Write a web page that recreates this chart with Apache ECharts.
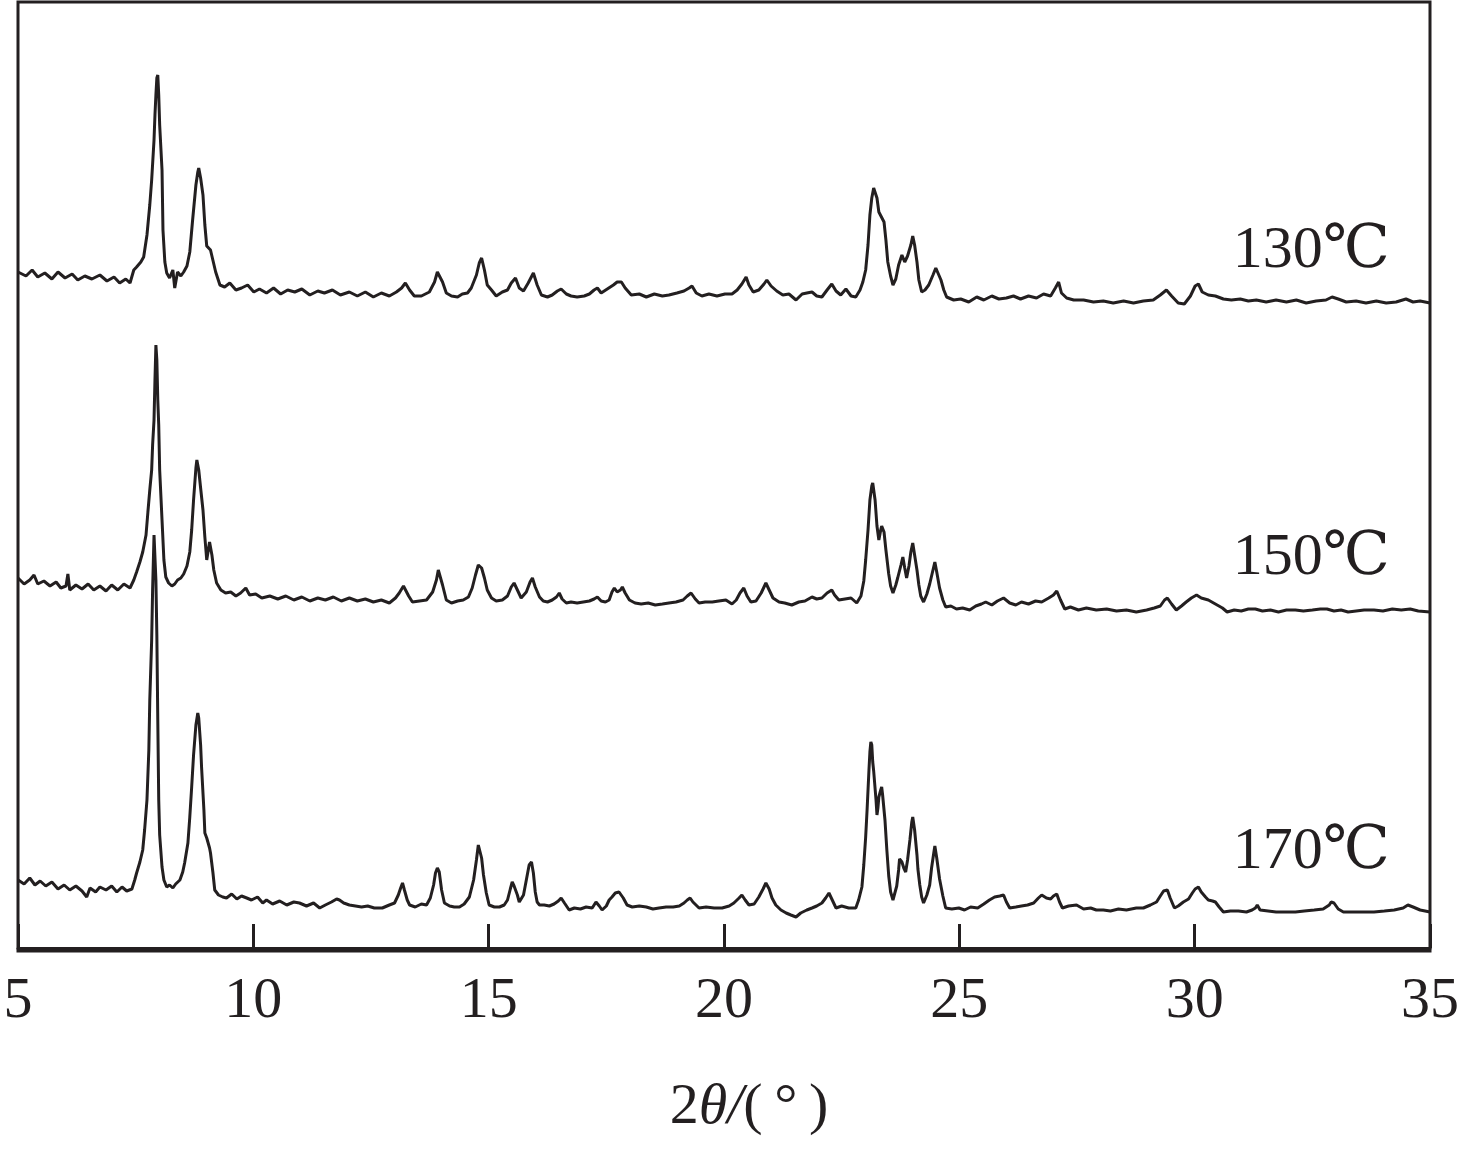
<!DOCTYPE html>
<html>
<head>
<meta charset="utf-8">
<script src="https://cdn.jsdelivr.net/npm/echarts@6/dist/echarts.min.js"></script>
<style>
html,body{margin:0;padding:0;background:#fff;}
#chart{width:1462px;height:1149px;}
</style>
</head>
<body>
<div id="chart"></div>
<script>
// Sample names (temperature of synthesis)
const sampleNames = ['130℃', '150℃', '170℃'];
// x tick labels (2θ, degrees)
const xTicks = [5, 10, 15, 20, 25, 30, 35];

// XRD patterns, [2θ (°), intensity (a.u., stacked offsets included)]
const s130 = [[5.00,676],[5.17,672],[5.30,678],[5.42,671],[5.57,675],[5.72,669],[5.85,676],[6.00,670],[6.15,674],[6.27,668],[6.42,672],[6.57,669],[6.74,673],[6.89,667],[7.04,671],[7.16,665],[7.29,669],[7.38,665],[7.46,678],[7.52,681],[7.61,686],[7.67,691],[7.74,713],[7.80,743],[7.84,768],[7.89,808],[7.91,833],[7.93,853],[7.95,870],[7.97,873],[7.99,853],[8.01,823],[8.06,778],[8.08,718],[8.12,686],[8.16,675],[8.22,670],[8.29,678],[8.33,660],[8.39,676],[8.46,672],[8.52,676],[8.59,682],[8.65,696],[8.71,728],[8.78,763],[8.82,776],[8.84,780],[8.88,770],[8.93,753],[8.97,723],[9.01,702],[9.05,704],[9.09,698],[9.14,688],[9.20,676],[9.29,663],[9.39,661],[9.50,665],[9.63,658],[9.75,660],[9.88,663],[10.01,656],[10.13,659],[10.28,655],[10.43,660],[10.58,654],[10.73,658],[10.88,656],[11.03,659],[11.20,653],[11.37,657],[11.51,655],[11.68,658],[11.85,653],[12.04,656],[12.21,652],[12.38,656],[12.55,651],[12.72,655],[12.89,652],[13.04,656],[13.15,660],[13.23,665],[13.32,658],[13.42,652],[13.57,652],[13.74,656],[13.85,666],[13.91,676],[13.95,678],[14.02,666],[14.10,655],[14.21,652],[14.34,651],[14.44,654],[14.55,655],[14.63,660],[14.74,673],[14.80,685],[14.85,690],[14.91,678],[14.97,663],[15.06,658],[15.16,652],[15.29,656],[15.40,658],[15.48,665],[15.57,670],[15.65,660],[15.74,657],[15.84,665],[15.95,675],[16.03,663],[16.12,653],[16.25,651],[16.35,653],[16.46,657],[16.54,659],[16.65,654],[16.75,652],[16.88,651],[17.03,652],[17.14,654],[17.24,658],[17.31,660],[17.39,655],[17.52,659],[17.65,663],[17.73,666],[17.82,666],[17.90,660],[18.03,653],[18.20,654],[18.35,651],[18.52,654],[18.69,652],[18.83,653],[19.00,655],[19.15,657],[19.26,660],[19.32,662],[19.41,655],[19.53,652],[19.68,654],[19.85,652],[20.02,654],[20.17,654],[20.28,658],[20.38,664],[20.47,671],[20.53,663],[20.62,656],[20.74,658],[20.85,664],[20.91,668],[21.00,662],[21.12,657],[21.25,653],[21.38,654],[21.53,648],[21.66,654],[21.76,655],[21.87,656],[21.97,652],[22.08,651],[22.19,658],[22.29,664],[22.38,657],[22.48,653],[22.59,659],[22.70,652],[22.80,651],[22.89,658],[22.95,666],[23.01,678],[23.06,703],[23.10,733],[23.14,750],[23.18,760],[23.21,762],[23.25,750],[23.29,736],[23.33,734],[23.40,726],[23.44,708],[23.48,686],[23.54,672],[23.59,663],[23.65,669],[23.71,683],[23.78,693],[23.84,686],[23.90,692],[23.97,703],[24.01,712],[24.05,703],[24.10,686],[24.14,668],[24.20,656],[24.27,658],[24.35,663],[24.44,673],[24.50,680],[24.54,678],[24.61,668],[24.67,658],[24.73,651],[24.88,648],[25.03,649],[25.20,646],[25.37,651],[25.52,648],[25.69,652],[25.84,649],[26.00,650],[26.15,652],[26.30,649],[26.47,652],[26.64,650],[26.79,654],[26.94,652],[27.04,660],[27.11,666],[27.17,655],[27.28,650],[27.43,648],[27.64,648],[27.85,646],[28.06,647],[28.27,645],[28.49,647],[28.70,645],[28.91,647],[29.12,648],[29.27,653],[29.40,658],[29.51,652],[29.65,645],[29.78,644],[29.91,652],[30.01,662],[30.08,664],[30.16,656],[30.29,653],[30.44,652],[30.61,649],[30.78,648],[30.97,649],[31.14,647],[31.31,648],[31.52,646],[31.73,648],[31.95,646],[32.16,648],[32.37,645],[32.58,647],[32.79,648],[32.92,651],[33.05,649],[33.22,646],[33.43,647],[33.64,645],[33.86,647],[34.07,645],[34.28,646],[34.49,649],[34.64,646],[34.79,647],[35.00,645]];

const s150 = [[5.00,370],[5.13,364],[5.25,368],[5.34,373],[5.42,364],[5.55,367],[5.68,362],[5.81,366],[5.91,360],[6.02,362],[6.06,374],[6.10,358],[6.23,363],[6.36,359],[6.49,364],[6.61,358],[6.74,362],[6.87,357],[6.99,363],[7.12,358],[7.25,364],[7.38,360],[7.46,368],[7.52,376],[7.59,386],[7.65,396],[7.72,413],[7.76,436],[7.80,458],[7.84,478],[7.86,503],[7.89,528],[7.91,568],[7.93,603],[7.95,588],[7.97,548],[7.99,523],[8.01,478],[8.06,428],[8.10,388],[8.14,371],[8.20,365],[8.27,362],[8.33,364],[8.39,368],[8.46,370],[8.52,374],[8.59,382],[8.65,396],[8.69,418],[8.73,448],[8.78,480],[8.80,488],[8.84,478],[8.88,460],[8.93,438],[8.97,411],[9.01,388],[9.05,400],[9.07,406],[9.12,393],[9.16,378],[9.22,365],[9.31,358],[9.41,355],[9.52,356],[9.63,352],[9.73,355],[9.84,360],[9.92,353],[10.05,354],[10.18,350],[10.35,352],[10.52,349],[10.69,352],[10.86,348],[11.03,351],[11.20,347],[11.37,350],[11.53,348],[11.70,351],[11.87,347],[12.04,350],[12.21,347],[12.38,349],[12.55,346],[12.72,348],[12.89,345],[13.02,350],[13.10,355],[13.19,362],[13.23,361],[13.30,352],[13.38,346],[13.53,347],[13.68,348],[13.81,356],[13.89,368],[13.93,378],[13.95,380],[14.02,363],[14.10,348],[14.21,345],[14.34,347],[14.46,348],[14.57,351],[14.65,360],[14.72,373],[14.78,383],[14.85,380],[14.91,370],[14.97,358],[15.06,350],[15.16,347],[15.29,348],[15.40,352],[15.48,361],[15.54,365],[15.61,358],[15.69,350],[15.80,356],[15.88,366],[15.93,370],[15.99,361],[16.08,351],[16.16,347],[16.25,346],[16.35,348],[16.44,351],[16.50,355],[16.56,349],[16.65,345],[16.75,346],[16.88,345],[17.01,346],[17.14,347],[17.24,349],[17.31,351],[17.39,347],[17.48,346],[17.56,348],[17.62,356],[17.67,360],[17.73,356],[17.80,358],[17.84,361],[17.90,355],[17.99,348],[18.11,345],[18.24,344],[18.39,345],[18.54,343],[18.69,344],[18.83,345],[18.98,346],[19.13,348],[19.22,352],[19.30,355],[19.39,349],[19.47,345],[19.60,346],[19.75,346],[19.89,347],[20.04,348],[20.17,344],[20.26,348],[20.34,355],[20.42,360],[20.49,352],[20.57,346],[20.68,347],[20.79,355],[20.85,361],[20.89,365],[20.96,358],[21.04,350],[21.17,346],[21.29,345],[21.44,343],[21.59,346],[21.72,347],[21.87,351],[21.97,349],[22.08,350],[22.19,355],[22.29,358],[22.35,353],[22.44,348],[22.57,349],[22.70,350],[22.82,345],[22.91,352],[22.97,367],[23.01,388],[23.06,418],[23.10,448],[23.14,462],[23.16,465],[23.21,448],[23.25,422],[23.29,408],[23.33,418],[23.35,422],[23.40,416],[23.44,398],[23.50,374],[23.54,362],[23.59,355],[23.65,363],[23.69,370],[23.76,383],[23.80,391],[23.84,380],[23.88,370],[23.93,382],[23.97,396],[24.01,405],[24.05,393],[24.10,378],[24.14,363],[24.18,352],[24.24,346],[24.31,354],[24.37,364],[24.44,378],[24.48,386],[24.52,376],[24.58,360],[24.65,348],[24.71,341],[24.82,342],[24.94,339],[25.07,340],[25.22,338],[25.35,342],[25.47,344],[25.56,346],[25.69,343],[25.81,347],[25.94,350],[26.07,345],[26.20,343],[26.32,346],[26.47,344],[26.62,347],[26.75,346],[26.90,350],[27.00,353],[27.07,357],[27.15,348],[27.24,339],[27.36,341],[27.53,338],[27.70,340],[27.91,338],[28.13,339],[28.34,337],[28.55,338],[28.76,336],[28.98,338],[29.14,340],[29.27,342],[29.36,348],[29.42,350],[29.51,344],[29.61,338],[29.72,342],[29.82,346],[29.93,350],[30.04,353],[30.14,350],[30.29,348],[30.44,344],[30.59,340],[30.69,336],[30.84,338],[30.99,337],[31.14,339],[31.29,339],[31.44,337],[31.61,338],[31.78,336],[31.95,338],[32.14,338],[32.31,337],[32.50,338],[32.67,339],[32.81,339],[32.96,337],[33.11,338],[33.26,336],[33.43,337],[33.60,338],[33.81,338],[34.00,337],[34.20,339],[34.39,338],[34.58,339],[34.75,337],[35.00,336]];

const s170 = [[5.00,68],[5.13,64],[5.25,70],[5.36,63],[5.47,67],[5.59,62],[5.72,66],[5.85,59],[5.98,63],[6.10,58],[6.23,62],[6.36,57],[6.46,51],[6.53,60],[6.65,56],[6.74,61],[6.87,58],[6.99,62],[7.10,56],[7.21,61],[7.31,57],[7.42,59],[7.48,68],[7.52,75],[7.59,86],[7.65,98],[7.69,118],[7.74,148],[7.78,198],[7.80,248],[7.84,308],[7.86,358],[7.89,413],[7.91,414],[7.93,368],[7.95,313],[7.97,228],[7.99,148],[8.01,113],[8.06,81],[8.10,68],[8.16,61],[8.22,63],[8.29,60],[8.35,64],[8.44,68],[8.50,76],[8.54,85],[8.61,105],[8.65,131],[8.69,161],[8.73,193],[8.78,223],[8.82,235],[8.84,230],[8.88,203],[8.90,181],[8.95,138],[8.97,115],[9.01,110],[9.03,111],[9.07,100],[9.09,95],[9.14,76],[9.18,58],[9.26,53],[9.35,51],[9.43,50],[9.54,54],[9.65,49],[9.75,52],[9.86,50],[9.96,48],[10.09,51],[10.20,45],[10.28,48],[10.41,44],[10.56,47],[10.71,43],[10.86,46],[10.98,45],[11.13,42],[11.28,45],[11.41,40],[11.53,43],[11.66,46],[11.77,49],[11.83,48],[11.92,45],[12.04,43],[12.17,42],[12.30,41],[12.43,42],[12.57,40],[12.74,40],[12.89,43],[13.00,45],[13.08,53],[13.13,60],[13.17,65],[13.21,58],[13.27,48],[13.32,43],[13.44,41],[13.57,44],[13.68,43],[13.76,50],[13.83,63],[13.87,75],[13.91,80],[13.95,76],[14.00,58],[14.06,45],[14.17,42],[14.27,41],[14.38,41],[14.48,44],[14.59,51],[14.68,68],[14.74,88],[14.78,103],[14.80,105],[14.85,90],[14.89,73],[14.95,55],[15.01,43],[15.12,41],[15.23,41],[15.33,43],[15.40,48],[15.46,59],[15.50,66],[15.54,62],[15.61,53],[15.65,46],[15.74,53],[15.82,73],[15.86,83],[15.91,86],[15.95,75],[15.99,56],[16.03,46],[16.08,43],[16.18,43],[16.29,42],[16.39,44],[16.48,47],[16.54,50],[16.61,45],[16.71,38],[16.82,40],[16.95,39],[17.07,41],[17.20,40],[17.28,46],[17.35,42],[17.41,38],[17.50,42],[17.56,48],[17.62,51],[17.69,55],[17.77,56],[17.86,50],[17.94,43],[18.05,41],[18.20,42],[18.35,41],[18.49,39],[18.62,40],[18.77,41],[18.92,41],[19.05,42],[19.15,45],[19.22,48],[19.28,50],[19.34,46],[19.47,40],[19.62,41],[19.79,40],[19.96,40],[20.11,42],[20.21,45],[20.32,50],[20.38,53],[20.45,48],[20.53,43],[20.64,44],[20.74,51],[20.83,59],[20.89,65],[20.96,59],[21.02,50],[21.10,43],[21.21,38],[21.32,35],[21.42,33],[21.53,31],[21.63,35],[21.76,38],[21.87,40],[21.97,42],[22.08,45],[22.16,50],[22.23,55],[22.29,49],[22.38,40],[22.50,42],[22.65,40],[22.80,40],[22.86,48],[22.93,61],[22.97,83],[23.01,111],[23.04,138],[23.08,178],[23.10,196],[23.12,206],[23.14,203],[23.16,186],[23.18,177],[23.23,148],[23.25,133],[23.27,140],[23.29,151],[23.33,158],[23.35,161],[23.37,153],[23.42,128],[23.46,98],[23.50,72],[23.54,56],[23.59,48],[23.63,55],[23.67,62],[23.71,78],[23.73,89],[23.78,86],[23.82,80],[23.86,76],[23.90,88],[23.95,108],[23.99,126],[24.01,131],[24.05,118],[24.10,93],[24.12,79],[24.16,63],[24.20,51],[24.24,45],[24.31,53],[24.37,63],[24.41,80],[24.46,96],[24.48,102],[24.52,90],[24.56,76],[24.58,69],[24.65,52],[24.71,40],[24.84,39],[24.99,40],[25.11,38],[25.24,41],[25.39,40],[25.52,44],[25.64,48],[25.75,51],[25.86,52],[25.94,53],[26.00,46],[26.07,40],[26.20,41],[26.32,42],[26.45,43],[26.58,45],[26.68,50],[26.75,53],[26.85,50],[26.94,49],[27.00,52],[27.07,54],[27.13,46],[27.19,40],[27.32,42],[27.49,43],[27.64,39],[27.79,40],[27.91,38],[28.06,38],[28.21,37],[28.38,39],[28.55,38],[28.76,40],[28.91,40],[29.06,43],[29.19,46],[29.27,52],[29.34,57],[29.42,58],[29.48,50],[29.57,40],[29.65,42],[29.76,46],[29.87,49],[29.95,55],[30.01,59],[30.08,61],[30.14,56],[30.23,51],[30.29,48],[30.38,47],[30.44,46],[30.52,41],[30.61,36],[30.76,37],[30.93,37],[31.10,36],[31.22,38],[31.29,40],[31.33,43],[31.39,38],[31.56,37],[31.73,36],[31.95,36],[32.14,36],[32.33,37],[32.54,38],[32.73,39],[32.86,43],[32.90,46],[32.96,45],[33.05,39],[33.16,36],[33.37,36],[33.58,36],[33.81,36],[34.03,37],[34.24,38],[34.43,40],[34.53,43],[34.64,41],[34.79,38],[35.00,36]];

const seriesData = [s130, s150, s170];

const chart = echarts.init(document.getElementById('chart'), null, {renderer: 'canvas'});
const serifFont = "'Liberation Serif', 'Times New Roman', 'DejaVu Serif', serif";
const ink = '#231f20';
// label anchor (2θ, intensity) for each sample's name, right-aligned
const labelAnchor = [[34.15, 697], [34.15, 390], [34.15, 96]];

const option = {
  animation: false,
  backgroundColor: '#ffffff',
  grid: {
    left: 18, right: 30, top: 2, bottom: 198,
    show: true, borderColor: ink, borderWidth: 3, backgroundColor: 'transparent'
  },
  xAxis: {
    type: 'value',
    min: xTicks[0], max: xTicks[xTicks.length - 1], interval: 5,
    axisLine: {show: true, lineStyle: {color: ink, width: 3}},
    axisTick: {show: true, inside: true, length: 24, lineStyle: {color: ink, width: 3}},
    axisLabel: {
      show: true, margin: 22, color: ink, fontSize: 58, fontFamily: serifFont,
      formatter: v => (xTicks.indexOf(v) >= 0 ? String(v) : '')
    },
    splitLine: {show: false},
    name: '{r|2}{i|θ/}{r|(\u2009°\u2009)}',
    nameLocation: 'middle',
    nameGap: 128,
    nameTextStyle: {
      padding: [0, 0, 0, 50],
      rich: {
        r: {fontSize: 58, fontFamily: serifFont, color: ink},
        i: {fontSize: 58, fontFamily: serifFont, fontStyle: 'italic', color: ink}
      }
    }
  },
  yAxis: {
    type: 'value', min: -3, max: 946,
    show: false, splitLine: {show: false}
  },
  series: seriesData.map((d, k) => ({
    type: 'line',
    name: sampleNames[k],
    data: d,
    showSymbol: false,
    symbol: 'none',
    smooth: false,
    lineStyle: {color: ink, width: 3},
    markPoint: {
      symbol: 'circle', symbolSize: 0,
      label: {
        show: true, position: 'left', distance: 0,
        formatter: sampleNames[k],
        fontSize: 60, fontFamily: serifFont, color: ink
      },
      data: [{coord: labelAnchor[k]}]
    }
  }))
};
chart.setOption(option);
</script>
</body>
</html>
